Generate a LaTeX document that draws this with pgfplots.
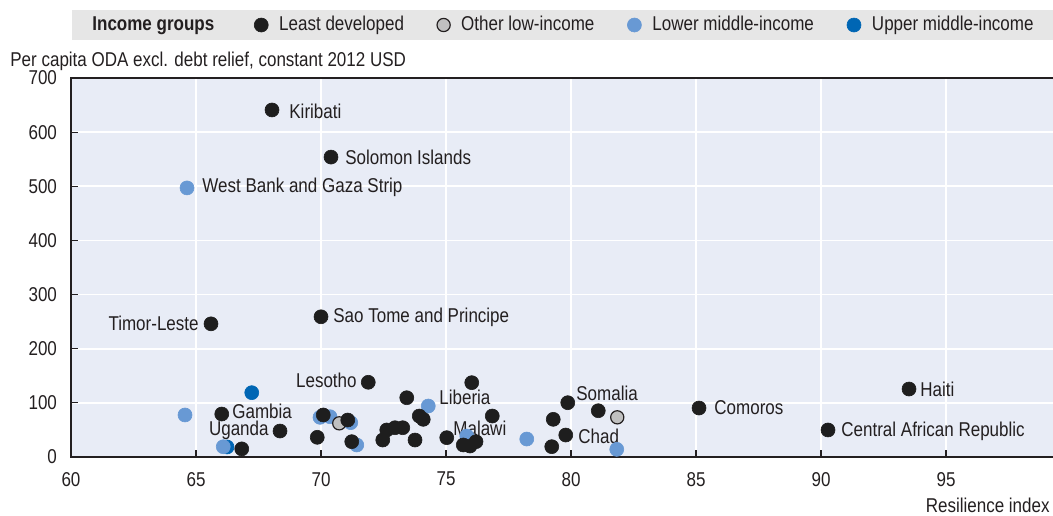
\documentclass[border=0pt]{standalone}
\usepackage{fontspec}
\setmainfont[FakeStretch=0.85]{Liberation Sans}
\usepackage{pgfplots}
\pgfplotsset{compat=1.18}
\definecolor{bg}{RGB}{232,236,246}
\definecolor{ld}{RGB}{30,30,30}
\definecolor{ol}{RGB}{192,192,192}
\definecolor{lm}{RGB}{104,153,212}
\definecolor{um}{RGB}{0,102,180}
\definecolor{legbg}{RGB}{230,230,230}
\definecolor{axc}{RGB}{35,31,32}
\definecolor{txt}{RGB}{35,31,32}
\tikzset{
  ldmark/.style={mark=*, mark size=3.5pt, mark options={fill=ld, draw=ld, line width=0.3pt}},
  olmark/.style={mark=*, mark size=3.3pt, mark options={fill=ol, draw=axc, line width=0.6pt}},
  lmmark/.style={mark=*, mark size=3.5pt, mark options={fill=lm, draw=lm, line width=0.3pt}},
  ummark/.style={mark=*, mark size=3.5pt, mark options={fill=um, draw=um, line width=0.3pt}},
  lab/.style={font=\fontsize{10}{12}\selectfont, text=txt, inner sep=0pt},
}
\begin{document}
\begin{tikzpicture}
\useasboundingbox (-35.5pt,-29pt) rectangle (491pt,228.5pt);
\fill[legbg] (0.5pt,208.5pt) rectangle (491pt,223.5pt);
\begin{axis}[
  at={(0,0)}, anchor=south west,
  scale only axis, width=491pt, height=189.5pt,
  xmin=60, xmax=99.28, ymin=0, ymax=700,
  axis background/.style={fill=bg},
  axis line style={draw=none},
  grid=major, major grid style={white, line width=0.8pt},
  xtick={60,65,...,95}, ytick={0,100,...,700},
  xtick pos=lower, ytick pos=left, tick align=inside,
  major tick length=3.5pt, tick style={axc, line width=0.6pt},
  /pgf/number format/assume math mode=true,
  tick label style={font=\fontsize{10}{12}\selectfont, text=txt},
  xticklabel style={yshift=-4pt},
  yticklabel style={xshift=-3.5pt},
  clip=false,
  legend columns=-1,
  legend style={draw=none, fill=none, inner sep=0pt,
    at={(rel axis cs:0,1)}, anchor=west, xshift=5pt, yshift=26.5pt,
    font=\fontsize{10}{12}\selectfont, text=txt,
    nodes={inner sep=0pt},
    /tikz/every even column/.append style={column sep=16.5pt},
    /tikz/every odd column/.append style={column sep=5.5pt}},
  legend image code/.code={\draw[#1] plot coordinates {(0pt,0pt)};},
]
\addlegendimage{empty legend}
\addlegendentry{\textbf{Income groups}\rule{3.5pt}{0pt}}
\addlegendimage{ldmark}
\addlegendentry{Least developed}
\addlegendimage{olmark}
\addlegendentry{Other low-income}
\addlegendimage{lmmark}
\addlegendentry{Lower middle-income}
\addlegendimage{ummark}
\addlegendentry{Upper middle-income}

% Upper middle-income
\addplot[only marks, ummark, forget plot] coordinates {
(67.23,118.8) (66.24,18.5)
};
% Lower middle-income
\addplot[only marks, lmmark, forget plot] coordinates {
(64.64,497) (64.56,77.6) (66.09,19) (69.96,73.3) (70.36,74.4)
(71.19,63.4) (71.43,22.2) (74.29,94.2) (75.83,38.8) (78.23,33.2) (81.83,14.2)
};
% Other low-income
\addplot[only marks, olmark, forget plot] coordinates {
(70.73,62.2) (81.85,73.3)
};
% Least developed
\addplot[only marks, ldmark, forget plot] coordinates {
(68.04,641) (70.4,554) (65.6,246) (70.0,259) (71.89,138) (93.52,125.6)
(85.12,90.5) (90.28,49.9) (79.87,100.3) (79.79,40.6) (66.03,79.4) (66.83,15)
(68.36,48) (70.09,77.6) (71.07,68.3) (69.85,36.4) (71.23,28.3) (72.47,31.4)
(72.63,49.9) (72.96,54.1) (73.27,54.1) (73.43,109.5) (73.93,75.7) (74.09,69.6)
(73.76,31.4) (75.03,35.7) (76.03,137.3) (76.85,75.7) (75.69,22.2) (75.96,20.3)
(76.2,28.3) (79.29,69.6) (79.23,19.1) (81.09,85.5)
};

\node[lab, anchor=west] at (axis cs:68.72,639) {Kiribati};
\node[lab, anchor=west] at (axis cs:70.96,554) {Solomon Islands};
\node[lab, anchor=west] at (axis cs:65.24,498.7) {West Bank and Gaza Strip};
\node[lab, anchor=east] at (axis cs:65.12,247.5) {Timor-Leste};
\node[lab, anchor=west] at (axis cs:70.48,258.6) {Sao Tome and Principe};
\node[lab, anchor=east] at (axis cs:71.44,142) {Lesotho};
\node[lab, anchor=west] at (axis cs:74.72,110.8) {Liberia};
\node[lab, anchor=west] at (axis cs:80.2,118.2) {Somalia};
\node[lab, anchor=west] at (axis cs:93.96,125.6) {Haiti};
\node[lab, anchor=west] at (axis cs:85.72,90.5) {Comoros};
\node[lab, anchor=west] at (axis cs:66.44,85) {Gambia};
\node[lab, anchor=east] at (axis cs:67.92,49.9) {Uganda};
\node[lab, anchor=west] at (axis cs:75.28,53.6) {Malawi};
\node[lab, anchor=west] at (axis cs:80.28,38.8) {Chad};
\node[lab, anchor=west] at (axis cs:90.8,48) {Central African Republic};

\node[lab, anchor=west, xshift=-30.5pt, yshift=8.5pt] at (rel axis cs:0,1) {Per capita ODA excl. debt relief, constant 2012 USD};
\node[lab, anchor=east, xshift=-1.5pt, yshift=-24pt] at (rel axis cs:1,0) {Resilience index};

\draw[axc, line width=1pt] (rel axis cs:1,1) -- (rel axis cs:0,1) -- (rel axis cs:0,0) -- (rel axis cs:1,0);
\end{axis}
\end{tikzpicture}
\end{document}
